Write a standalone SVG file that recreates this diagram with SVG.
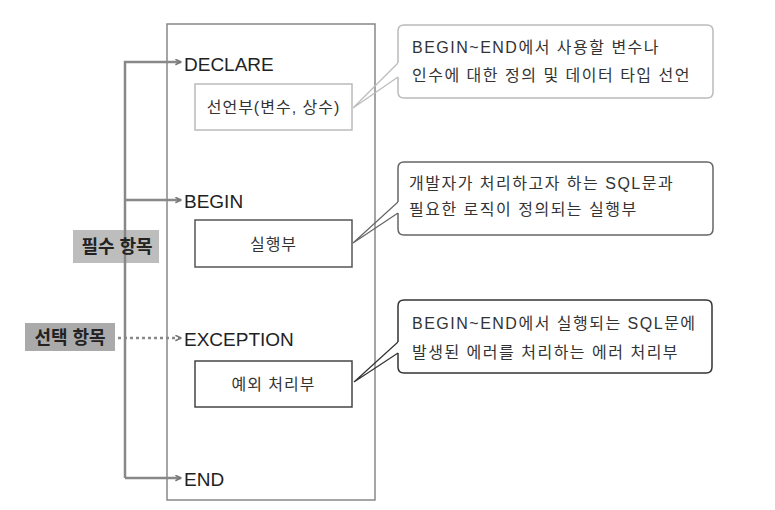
<svg xmlns="http://www.w3.org/2000/svg" width="775" height="510" viewBox="0 0 775 510">
<defs>
<marker id="arr" viewBox="0 0 10 10" refX="9" refY="5" markerWidth="7" markerHeight="7" markerUnits="userSpaceOnUse" orient="auto">
<path d="M1,1 L9,5 L1,9" fill="none" stroke="#777" stroke-width="2.2"/>
</marker>
<style>
.kw{font-family:"Liberation Sans","Noto Sans CJK KR",sans-serif;font-size:19px;fill:#222;}
.t{font-family:"Liberation Sans","Noto Sans CJK KR",sans-serif;font-size:16px;letter-spacing:1.5px;fill:#333;}
.in{font-family:"Liberation Sans","Noto Sans CJK KR",sans-serif;font-size:16px;letter-spacing:1px;fill:#333;}
.lb{font-family:"Liberation Sans","Noto Sans CJK KR",sans-serif;font-size:18px;fill:#222;font-weight:bold;}
.conn{fill:none;stroke:#888;stroke-width:2.5;}
</style>
</defs>
<rect width="775" height="510" fill="#fff"/>
<g id="main">
<rect x="167" y="24" width="208" height="476" fill="none" stroke="#888" stroke-width="1.5"/>
<text class="kw" x="184" y="71">DECLARE</text>
<text class="kw" x="184" y="208">BEGIN</text>
<text class="kw" x="184" y="346">EXCEPTION</text>
<text class="kw" x="184" y="486">END</text>
</g>
<g id="declare-part">
<rect x="195" y="84" width="157" height="46" fill="#fff" stroke="#bbb" stroke-width="1.5"/>
<text class="in" x="273.5" y="113" text-anchor="middle">선언부(변수, 상수)</text>
</g>
<g id="begin-part">
<rect x="195" y="220" width="157" height="47" fill="#fff" stroke="#555" stroke-width="1.5"/>
<text class="in" x="273.5" y="250" text-anchor="middle">실행부</text>
</g>
<g id="exception-part">
<rect x="195" y="361" width="157" height="46" fill="#fff" stroke="#444" stroke-width="1.5"/>
<text class="in" x="273.5" y="390" text-anchor="middle">예외 처리부</text>
</g>
<g id="connectors">
<path class="conn" d="M125,478 V62 H181" marker-end="url(#arr)"/>
<path class="conn" d="M125,200 H181" marker-end="url(#arr)"/>
<path class="conn" d="M125,478 H181" marker-end="url(#arr)"/>
<path class="conn" d="M118,338 H181" stroke-dasharray="3,3" marker-end="url(#arr)"/>
</g>
<g id="label-required">
<rect x="73" y="230" width="86" height="33" fill="#bdbdbd"/>
<line x1="125" y1="230" x2="125" y2="263" stroke="#888" stroke-width="2.5"/>
<text class="lb" x="117" y="253" text-anchor="middle">필수 항목</text>
</g>
<g id="label-optional">
<rect x="25" y="323" width="90" height="28" fill="#aaa"/>
<text class="lb" x="70" y="344" text-anchor="middle">선택 항목</text>
</g>
<g id="callout-declare">
<path d="M398,63 L353,108 L398,77" fill="none" stroke="#bbb" stroke-width="1.2"/>
<path d="M398,63 V31 Q398,25 404,25 H707 Q713,25 713,31 V92 Q713,98 707,98 H404 Q398,98 398,92 V77" fill="#fff" stroke="#bbb" stroke-width="1.5"/>
<text class="t" x="412" y="53">BEGIN~END에서 사용할 변수나</text>
<text class="t" x="412" y="81">인수에 대한 정의 및 데이터 타입 선언</text>
</g>
<g id="callout-begin">
<path d="M398,202 L353,243 L398,213" fill="none" stroke="#666" stroke-width="1.2"/>
<path d="M398,202 V168 Q398,162 404,162 H707 Q713,162 713,168 V229 Q713,235 707,235 H404 Q398,235 398,229 V213" fill="#fff" stroke="#666" stroke-width="1.5"/>
<text class="t" x="409" y="189">개발자가 처리하고자 하는 SQL문과</text>
<text class="t" x="409" y="215">필요한 로직이 정의되는 실행부</text>
</g>
<g id="callout-exception">
<path d="M398,342 L354,382 L398,353" fill="none" stroke="#333" stroke-width="1.2"/>
<path d="M398,342 V306 Q398,300 404,300 H706 Q712,300 712,306 V367 Q712,373 706,373 H404 Q398,373 398,367 V353" fill="#fff" stroke="#333" stroke-width="1.5"/>
<text class="t" x="412" y="329">BEGIN~END에서 실행되는 SQL문에</text>
<text class="t" x="412" y="358">발생된 에러를 처리하는 에러 처리부</text>
</g>
</svg>
